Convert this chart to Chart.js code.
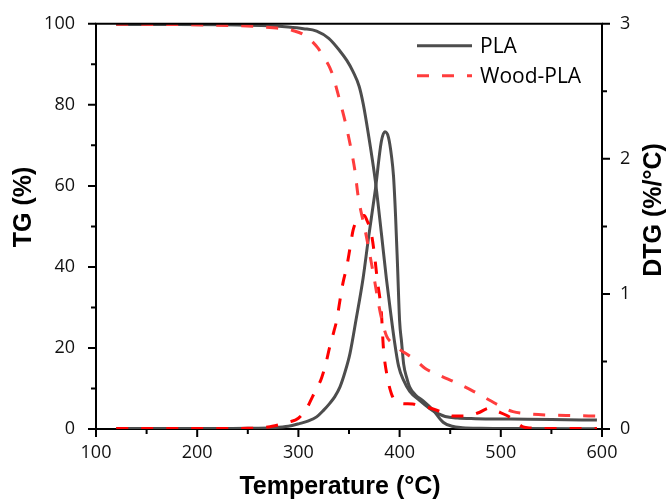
<!DOCTYPE html>
<html>
<head>
<meta charset="utf-8">
<script src="https://cdn.jsdelivr.net/npm/chart.js@4"></script>
<style>
  body { margin: 0; background: #fff; }
  #wrap { width: 668px; height: 503px; }
</style>
</head>
<body>
<div id="wrap"><canvas id="tgChart"></canvas></div>
<script>
// values (temperature in °C)
const plaTgTemp = [120, 180, 240, 270, 290, 305, 318, 330, 341, 348, 354, 360, 364, 369, 376, 382, 387, 391, 395, 399, 404, 410, 420, 430, 437, 445, 457, 475, 510, 550, 595];
const plaTg = [99.8, 99.8, 99.7, 99.5, 99.2, 98.8, 98.2, 96.4, 93.3, 90.9, 88.2, 84.6, 80.3, 73.0, 61.3, 48.3, 37.0, 29.0, 21.5, 15.5, 12.0, 9.3, 7.0, 5.0, 3.9, 3.1, 2.7, 2.55, 2.45, 2.35, 2.2];

const plaDtgTemp = [120, 200, 250, 275, 290, 301, 310, 318, 325, 331, 336, 341, 346, 351, 357, 364, 369, 376, 382, 385.5, 389, 392, 394, 396, 398, 400, 402, 404, 407, 410, 416, 423, 433, 443, 452, 462, 480, 520, 595];
const plaDtg = [0.003, 0.003, 0.005, 0.01, 0.02, 0.04, 0.06, 0.09, 0.14, 0.19, 0.24, 0.31, 0.42, 0.56, 0.81, 1.12, 1.40, 1.77, 2.13, 2.2, 2.16, 2.02, 1.87, 1.58, 1.2, 0.8, 0.64, 0.48, 0.38, 0.31, 0.25, 0.21, 0.14, 0.05, 0.02, 0.01, 0.005, 0.003, 0.002];

const woodTgTemp = [120, 180, 230, 255, 275, 285, 295, 304, 312, 319, 325, 331, 335, 339, 346, 351, 356, 359, 366, 371, 375, 381, 387, 392, 397, 405, 415, 425, 440, 457, 473, 489, 500, 512, 525, 546, 570, 595];
const woodTg = [99.9, 99.8, 99.6, 99.4, 99.0, 98.8, 98.3, 97.5, 96.0, 94.1, 91.8, 89.2, 86.5, 82.8, 76.1, 70.4, 63.5, 57.5, 49.0, 42.5, 37.0, 28.6, 23.0, 21.3, 20.2, 18.8, 17.2, 15.0, 13.2, 11.3, 9.3, 7.1, 5.6, 4.3, 3.8, 3.45, 3.3, 3.2];

const woodDtgTemp = [120, 200, 250, 270, 280, 290, 300, 308, 314, 319, 323, 327, 331, 335, 338, 341, 344, 348, 351, 354, 358, 362, 365, 368, 372, 375, 378, 382, 384, 388, 392, 397, 403, 413, 422, 430, 440, 453, 466, 478, 489, 497, 506, 514, 522, 530, 540, 560, 595];
const woodDtg = [0.003, 0.003, 0.005, 0.015, 0.03, 0.05, 0.08, 0.15, 0.24, 0.31, 0.38, 0.48, 0.61, 0.72, 0.81, 0.95, 1.08, 1.21, 1.34, 1.47, 1.55, 1.58, 1.58, 1.54, 1.45, 1.3, 1.1, 0.86, 0.6, 0.38, 0.26, 0.2, 0.188, 0.185, 0.17, 0.155, 0.13, 0.096, 0.096, 0.12, 0.155, 0.13, 0.10, 0.06, 0.015, 0.007, 0.004, 0.003, 0.003];

const seriesNames = ['PLA', 'Wood-PLA'];
const xTitle = 'Temperature (°C)';
const yTitle = 'TG (%)';
const y2Title = 'DTG (%/°C)';

const gray = '#4d4d4d';
const redTg = '#ff3d3d';
const redDtg = '#ff0000';
const dash = [12, 13];
const titleFont = 'bold 25px "Liberation Sans", Arial';

function pts(xs, ys) {
    return xs.map((x, i) => ({ x: x, y: ys[i] }));
}

function lineSet(label, xs, ys, color, axis, dashed, order) {
    return {
        label: label,
        data: pts(xs, ys),
        yAxisID: axis,
        borderColor: color,
        backgroundColor: color,
        borderWidth: 3,
        borderDash: dashed ? dash : [],
        pointRadius: 0,
        cubicInterpolationMode: 'monotone',
        fill: false,
        order: order,
        inLegend: axis === 'y'
    };
}

// minor/major tick marks, frame top line, axis titles and legend
const decor = {
    id: 'decor',
    afterDraw(chart) {
        const { ctx, chartArea: a, scales } = chart;
        ctx.save();
        ctx.strokeStyle = '#000';
        ctx.lineWidth = 2;
        ctx.beginPath();
        ctx.moveTo(a.left - 1, a.top);
        ctx.lineTo(a.right + 1, a.top);
        ctx.stroke();

        function marks(scale, step, draw) {
            let i = 0;
            for (let v = scale.min; v <= scale.max + 1e-9; v += step / 2, i++) {
                const len = i % 2 === 0 ? 8 : 5;
                draw(scale.getPixelForValue(v), len);
            }
        }
        ctx.beginPath();
        marks(scales.x, 100, (p, len) => { ctx.moveTo(p, a.bottom); ctx.lineTo(p, a.bottom + len); });
        marks(scales.y, 20, (p, len) => { ctx.moveTo(a.left, p); ctx.lineTo(a.left - len, p); });
        marks(scales.y2, 1, (p, len) => { ctx.moveTo(a.right, p); ctx.lineTo(a.right + len, p); });
        ctx.stroke();

        ctx.fillStyle = '#000';
        ctx.font = titleFont;
        ctx.textAlign = 'center';
        ctx.textBaseline = 'middle';
        ctx.fillText(xTitle, 340, 487);
        ctx.save();
        ctx.translate(24, 207);
        ctx.rotate(-Math.PI / 2);
        ctx.fillText(yTitle, 0, 0);
        ctx.restore();
        ctx.save();
        ctx.translate(654, 210);
        ctx.rotate(-Math.PI / 2);
        ctx.fillText(y2Title, 0, 0);
        ctx.restore();

        // legend
        const items = chart.data.datasets.filter(d => d.inLegend);
        ctx.font = '21px "Open Sans"';
        ctx.textAlign = 'left';
        items.forEach((d, i) => {
            const y = a.top + 22 + i * 30;
            ctx.strokeStyle = d.borderColor;
            ctx.lineWidth = 3;
            ctx.setLineDash(d.borderDash);
            ctx.beginPath();
            ctx.moveTo(a.right - 185, y);
            ctx.lineTo(a.right - 130, y);
            ctx.stroke();
            ctx.setLineDash([]);
            ctx.fillStyle = '#000';
            ctx.fillText(d.label, a.right - 122, y + 1);
        });
        ctx.restore();
    }
};

const ctx = document.getElementById('tgChart').getContext('2d');
new Chart(ctx, {
    type: 'line',
    data: {
        datasets: [
            lineSet(seriesNames[0], plaTgTemp, plaTg, gray, 'y', false, 2),
            lineSet(seriesNames[1], woodTgTemp, woodTg, redTg, 'y', true, 1),
            lineSet(seriesNames[0] + ' DTG', plaDtgTemp, plaDtg, gray, 'y2', false, 2),
            lineSet(seriesNames[1] + ' DTG', woodDtgTemp, woodDtg, redDtg, 'y2', true, 1)
        ]
    },
    options: {
        responsive: true,
        maintainAspectRatio: false,
        animation: false,
        layout: { padding: { top: 23, left: 0, right: 0, bottom: 0 } },
        plugins: {
            legend: { display: false },
            tooltip: { enabled: false }
        },
        scales: {
            x: {
                type: 'linear',
                min: 100,
                max: 600,
                grid: { display: false },
                border: { display: true, color: '#000', width: 2 },
                ticks: { stepSize: 100, font: { family: 'Open Sans', size: 18 }, color: '#111', padding: 5, maxRotation: 0, autoSkip: false },
                afterFit: (s) => { s.height = 74; }
            },
            y: {
                position: 'left',
                min: 0,
                max: 100,
                grid: { display: false },
                border: { display: true, color: '#000', width: 2 },
                ticks: { stepSize: 20, font: { family: 'Open Sans', size: 18 }, color: '#111', padding: 13 },
                afterFit: (s) => { s.width = 96; }
            },
            y2: {
                position: 'right',
                min: 0,
                max: 3,
                grid: { display: false },
                border: { display: true, color: '#000', width: 2 },
                ticks: { stepSize: 1, font: { family: 'Open Sans', size: 18 }, color: '#111', padding: 10 },
                afterFit: (s) => { s.width = 66; }
            }
        }
    },
    plugins: [decor]
});
</script>
</body>
</html>
